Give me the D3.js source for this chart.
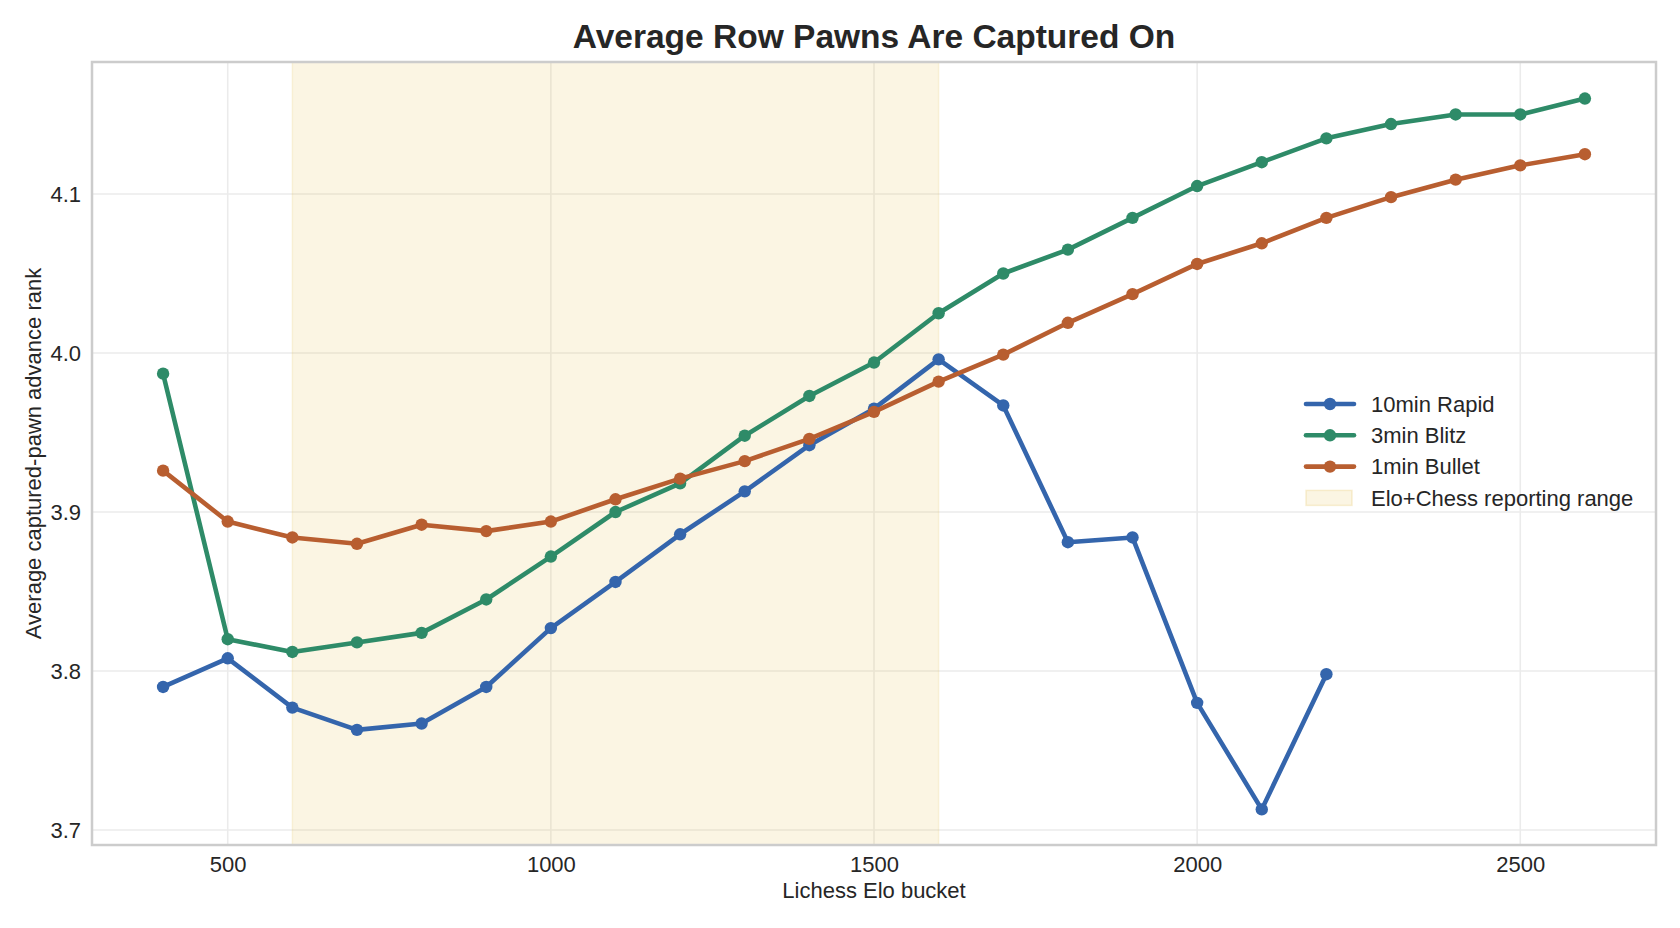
<!DOCTYPE html>
<html>
<head>
<meta charset="utf-8">
<script src="https://cdn.jsdelivr.net/npm/d3@7"></script>
<style>
  body { margin: 0; background: #fff; }
  text { font-family: "Liberation Sans", Arial, sans-serif; fill: #262626; }
</style>
</head>
<body>
<div id="chart"></div>
<script>
// Elo buckets
var elo = [400, 500, 600, 700, 800, 900, 1000, 1100, 1200, 1300, 1400, 1500,
           1600, 1700, 1800, 1900, 2000, 2100, 2200, 2300, 2400, 2500, 2600];

// series values (rapid has no data past 2200)
var rapid = [3.790, 3.808, 3.777, 3.763, 3.767, 3.790, 3.827, 3.856, 3.886, 3.913,
             3.942, 3.965, 3.996, 3.967, 3.881, 3.884, 3.780, 3.713, 3.798];
var blitz = [3.987, 3.820, 3.812, 3.818, 3.824, 3.845, 3.872, 3.900, 3.918, 3.948,
             3.973, 3.994, 4.025, 4.050, 4.065, 4.085, 4.105, 4.120, 4.135, 4.144,
             4.150, 4.150, 4.160];
var bullet = [3.926, 3.894, 3.884, 3.880, 3.892, 3.888, 3.894, 3.908, 3.921, 3.932,
              3.946, 3.963, 3.982, 3.999, 4.019, 4.037, 4.056, 4.069, 4.085, 4.098,
              4.109, 4.118, 4.125];

var seriesNames = ["10min Rapid", "3min Blitz", "1min Bullet"];
var seriesColors = ["#3465ac", "#2e8b68", "#b85e30"];
var spanRange = [600, 1600];
var spanLabel = "Elo+Chess reporting range";

var xTicks = [500, 1000, 1500, 2000, 2500];
var yTicks = [3.7, 3.8, 3.9, 4.0, 4.1];

var W = 1680, H = 928;
var margin = { top: 62, right: 24, bottom: 83, left: 92 },
    width = W - margin.left - margin.right,
    height = H - margin.top - margin.bottom;

var svg = d3.select("#chart").append("svg")
  .attr("width", W).attr("height", H);

var g = svg.append("g")
  .attr("transform", "translate(" + margin.left + "," + margin.top + ")");

// scales with matplotlib-like 5% padding
var x = d3.scaleLinear().domain([290, 2710]).range([0, width]);
var y = d3.scaleLinear().domain([3.6906, 4.1830]).range([height, 0]);

// grid
g.append("g").selectAll("line").data(xTicks).enter().append("line")
  .attr("x1", function (d) { return x(d); }).attr("x2", function (d) { return x(d); })
  .attr("y1", 0).attr("y2", height)
  .attr("stroke", "#ebebeb").attr("stroke-width", 1.6);
g.append("g").selectAll("line").data(yTicks).enter().append("line")
  .attr("y1", function (d) { return y(d); }).attr("y2", function (d) { return y(d); })
  .attr("x1", 0).attr("x2", width)
  .attr("stroke", "#ebebeb").attr("stroke-width", 1.6);

// shaded range
g.append("rect")
  .attr("x", x(spanRange[0])).attr("y", 0)
  .attr("width", x(spanRange[1]) - x(spanRange[0])).attr("height", height)
  .attr("fill", "#e8c25a").attr("fill-opacity", 0.17)
  .attr("stroke", "#e8c25a").attr("stroke-opacity", 0.17).attr("stroke-width", 1.5);

// axes (no tick marks, labels only)
var xAxis = g.append("g")
  .attr("transform", "translate(0," + height + ")")
  .call(d3.axisBottom(x).tickValues(xTicks).tickSize(0).tickPadding(11).tickFormat(d3.format("d")));
var yAxis = g.append("g")
  .call(d3.axisLeft(y).tickValues(yTicks).tickSize(0).tickPadding(11).tickFormat(d3.format(".1f")));
[xAxis, yAxis].forEach(function (a) {
  a.select(".domain").remove();
  a.selectAll("text").style("font-size", "22px").attr("fill", "#262626");
});

// lines
var allSeries = [rapid, blitz, bullet];
var line = d3.line()
  .x(function (d, i) { return x(elo[i]); })
  .y(function (d) { return y(d); });

allSeries.forEach(function (vals, k) {
  g.append("path")
    .datum(vals)
    .attr("d", line)
    .attr("fill", "none")
    .attr("stroke", seriesColors[k])
    .attr("stroke-width", 4.6)
    .attr("stroke-linejoin", "round")
    .attr("stroke-linecap", "round");
  g.selectAll(".dot" + k)
    .data(vals)
    .enter()
    .append("circle")
    .attr("cx", function (d, i) { return x(elo[i]); })
    .attr("cy", function (d) { return y(d); })
    .attr("r", 6.2)
    .attr("fill", seriesColors[k]);
});

// frame
g.append("rect")
  .attr("x", 0).attr("y", 0).attr("width", width).attr("height", height)
  .attr("fill", "none").attr("stroke", "#cccccc").attr("stroke-width", 2.5);

// title and labels
svg.append("text")
  .attr("x", margin.left + width / 2).attr("y", 48)
  .attr("text-anchor", "middle")
  .style("font-size", "33.5px").style("font-weight", "bold")
  .text("Average Row Pawns Are Captured On");

svg.append("text")
  .attr("x", margin.left + width / 2).attr("y", 898)
  .attr("text-anchor", "middle")
  .style("font-size", "22px")
  .text("Lichess Elo bucket");

svg.append("text")
  .attr("transform", "translate(41," + (margin.top + height / 2) + ") rotate(-90)")
  .attr("text-anchor", "middle")
  .style("font-size", "22px")
  .text("Average captured-pawn advance rank");

// legend
var legend = svg.append("g").attr("transform", "translate(1306,404)");
seriesNames.forEach(function (name, k) {
  var row = legend.append("g").attr("transform", "translate(0," + (k * 31.3) + ")");
  row.append("line")
    .attr("x1", 0).attr("x2", 48).attr("y1", 0).attr("y2", 0)
    .attr("stroke", seriesColors[k]).attr("stroke-width", 4.6).attr("stroke-linecap", "round");
  row.append("circle").attr("cx", 24).attr("cy", 0).attr("r", 6.2).attr("fill", seriesColors[k]);
  row.append("text").attr("x", 65).attr("y", 0).attr("dy", "0.35em")
    .style("font-size", "22px").text(name);
});
var spanRow = legend.append("g").attr("transform", "translate(0," + (3 * 31.3) + ")");
spanRow.append("rect")
  .attr("x", 0).attr("y", -7.5).attr("width", 46).attr("height", 15)
  .attr("fill", "#e8c25a").attr("fill-opacity", 0.17)
  .attr("stroke", "#e8c25a").attr("stroke-opacity", 0.25).attr("stroke-width", 1.5);
spanRow.append("text").attr("x", 65).attr("y", 0).attr("dy", "0.35em")
  .style("font-size", "22px").text(spanLabel);
</script>
</body>
</html>
